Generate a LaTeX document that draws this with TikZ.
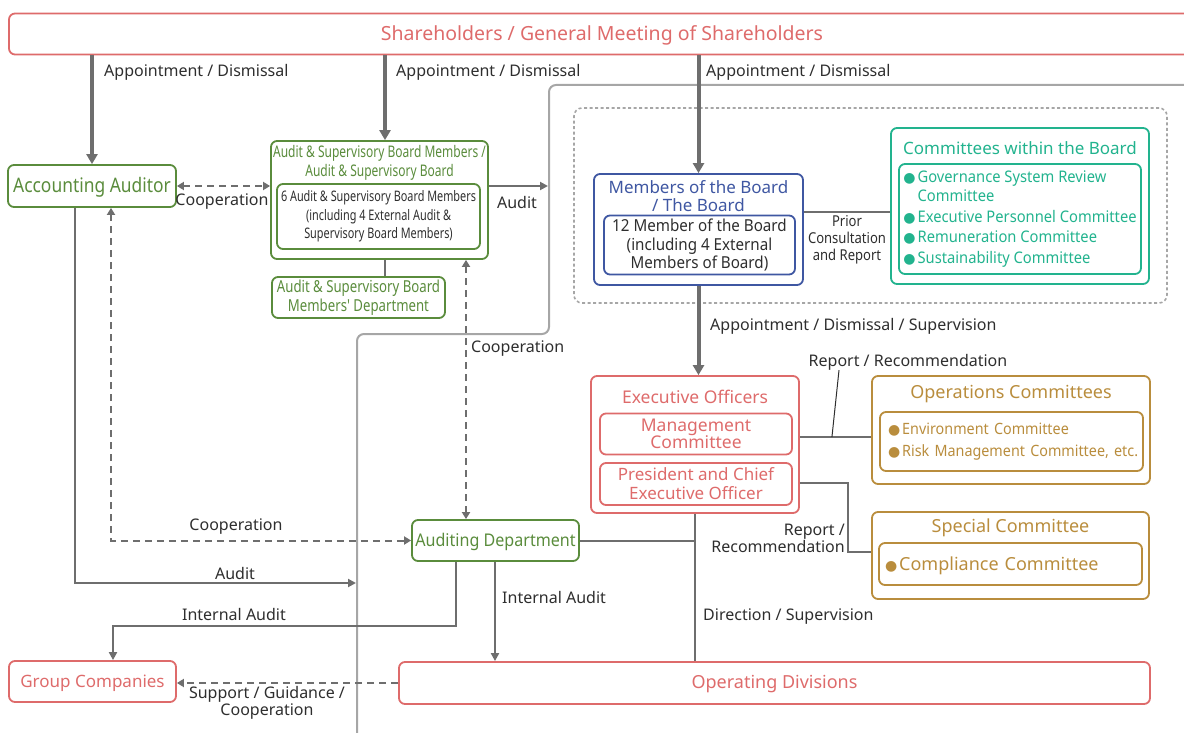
\documentclass[tikz,border=0pt]{standalone}
\usepackage{fontspec}
\setmainfont{Noto Sans}
\newfontfamily\cfA[FakeStretch=0.75]{Noto Sans}
\newfontfamily\cfB[FakeStretch=0.80]{Noto Sans}
\newfontfamily\cfC[FakeStretch=0.87]{Noto Sans}
\newfontfamily\cfD[FakeStretch=0.92]{Noto Sans}
\newfontfamily\symfont{DejaVu Sans}
\usetikzlibrary{arrows.meta,calc}

\definecolor{cRed}{HTML}{DE6B6B}
\definecolor{cGreen}{HTML}{5A8C3C}
\definecolor{cBlue}{HTML}{3F57A2}
\definecolor{cTeal}{HTML}{22B38E}
\definecolor{cGold}{HTML}{B98D3D}
\definecolor{cLine}{HTML}{6E6E6E}
\definecolor{cFrame}{HTML}{A6A6A6}
\definecolor{cText}{HTML}{2E2E2E}

\newcommand\blt{{\symfont\fontsize{14}{14}\selectfont ●}}
\newcommand\low[1]{\raisebox{-1.5pt}[\height][\depth]{#1}}

\tikzset{
  box/.style={draw, line width=1.8pt, rounded corners=6pt, inner sep=0pt, align=center},
  redbox/.style={box, draw=cRed, text=cRed},
  greenbox/.style={box, draw=cGreen, text=cGreen},
  bluebox/.style={box, draw=cBlue, text=cBlue},
  tealbox/.style={box, draw=cTeal, text=cTeal},
  goldbox/.style={box, draw=cGold, text=cGold},
  title/.style={inner sep=0pt, align=center},
  lbl/.style={text=cText, inner sep=0pt, align=center, font=\fontsize{16}{17}\selectfont},
  heavy/.style={draw=cLine, line width=4pt, -{Triangle[length=10pt,width=11pt]}},
  conn/.style={draw=cLine, line width=2pt},
  arr/.style={conn, -{Triangle[length=8pt,width=8pt]}},
  dasharr/.style={conn, dash pattern=on 7pt off 5pt, -{Triangle[length=7pt,width=8pt]}},
  dasharr2/.style={dasharr, {Triangle[length=7pt,width=8pt]}-{Triangle[length=7pt,width=8pt]}},
  leader/.style={draw=cText, line width=1pt},
  frame/.style={draw=cFrame, line width=2pt, rounded corners=7pt},
  grouped/.style={draw=cFrame, line width=1.6pt, dash pattern=on 3pt off 2.5pt, rounded corners=8pt}
}

\begin{document}
\begin{tikzpicture}[x=1pt,y=-1pt]
\useasboundingbox (0,0) rectangle (1184,733);

% separating line around the board area
\draw[frame] (1195,85) -- (549,85) -- (549,334) -- (357,334) -- (357,745);
\coordinate (frameA) at (548,186);
\coordinate (frameB) at (356,583);

% shareholders
\node[redbox, minimum width=1186pt, minimum height=41pt, font=\fontsize{19.5}{22}\selectfont] (sh) at (602,34) {\low{Shareholders / General Meeting of Shareholders}};

% accounting auditor
\node[greenbox, minimum width=168pt, minimum height=42pt, font=\cfC\fontsize{20}{22}\selectfont] (acc) at (92,186) {\low{Accounting Auditor}};

% audit & supervisory board
\node[greenbox, minimum width=217pt, minimum height=118pt] (asb) at (379.5,200) {};
\node[title, text=cGreen, font=\cfA\fontsize{16}{19}\selectfont] (asbt) at (379.5,162.5) {Audit \& Supervisory Board Members /\\Audit \& Supervisory Board};
\node[greenbox, text=cText, minimum width=203pt, minimum height=65pt, font=\cfA\fontsize{14.5}{18.5}\selectfont] (asbi) at (378.5,216.5) {6 Audit \& Supervisory Board Members\\(including 4 External Audit \&\\Supervisory Board Members)};
\node[greenbox, minimum width=173pt, minimum height=41pt, font=\cfB\fontsize{16.5}{19}\selectfont] (asbd) at (358.5,297.5) {Audit \& Supervisory Board\\Members' Department};

% board group
\node[grouped, minimum width=593pt, minimum height=195pt, inner sep=0pt] (grp) at (870.5,205.5) {};
\node[bluebox, minimum width=209pt, minimum height=111pt] (mob) at (698.5,229.5) {};
\node[title, text=cBlue, font=\fontsize{17}{18}\selectfont] (mobt) at (698.5,196) {Members of the Board\\/ The Board};
\node[bluebox, text=cText, minimum width=191pt, minimum height=59pt, font=\cfD\fontsize{16.5}{18.5}\selectfont] (mobi) at (699.5,245) {12 Member of the Board\\(including 4 External\\Members of Board)};

\node[tealbox, minimum width=258pt, minimum height=156pt] (cwb) at (1020,206) {};
\node[title, text=cTeal, font=\fontsize{17}{18}\selectfont] (cwbt) at (1020,148) {Committees within the Board};
\node[tealbox, minimum width=242pt, minimum height=110pt, align=left, font=\cfD\fontsize{16}{20.5}\selectfont] (cwbi) at (1020,219) {%
\begin{tabular}{@{}l@{\hspace{2pt}}l@{}}
\blt & Governance System Review\\[-1.5pt]
 & Committee\\
\blt & Executive Personnel Committee\\
\blt & Remuneration Committee\\
\blt & Sustainability Committee
\end{tabular}};

% executive officers
\node[redbox, minimum width=208pt, minimum height=137pt] (eo) at (695,444.5) {};
\node[title, text=cRed, font=\fontsize{17.5}{18}\selectfont] (eot) at (695,396.5) {Executive Officers};
\node[redbox, minimum width=192pt, minimum height=41pt, font=\fontsize{17.5}{17.5}\selectfont] (mc) at (696,434) {Management\\Committee};
\node[redbox, minimum width=192pt, minimum height=42pt, font=\fontsize{17}{19}\selectfont] (pceo) at (696,484) {President and Chief\\Executive Officer};

% operations committees
\node[goldbox, minimum width=263pt, minimum height=59pt, text width=247pt, align=left, font=\cfD\fontsize{15.6}{22}\selectfont] (opci) at (1011.5,441.5) {%
\mbox{\blt\hspace{2pt}Environment Committee}\\
\mbox{\blt\hspace{2pt}Risk Management Committee, etc.}};
\node[goldbox, minimum width=278pt, minimum height=108pt] (opc) at (1011,430) {};
\node[title, text=cGold, font=\fontsize{18}{18}\selectfont] (opct) at (1011,394.5) {Operations Committees};

% special committee
\node[goldbox, minimum width=277pt, minimum height=87pt] (spc) at (1010.5,555.5) {};
\node[title, text=cGold, font=\fontsize{18}{18}\selectfont] (spct) at (1010.5,528) {Special Committee};
\node[goldbox, minimum width=263pt, minimum height=42pt, text width=251pt, align=left, font=\fontsize{18}{18}\selectfont] (spci) at (1010.5,564) {\low{\blt\hspace{2pt}Compliance Committee}};

% auditing department, group companies, operating divisions
\node[greenbox, minimum width=167pt, minimum height=41pt, font=\cfD\fontsize{17.5}{18}\selectfont] (ad) at (495.5,540.5) {\low{Auditing Department}};
\node[redbox, minimum width=167pt, minimum height=41pt, font=\fontsize{17}{18}\selectfont] (gc) at (92.5,681.5) {\low{Group Companies}};
\node[redbox, minimum width=751pt, minimum height=42pt, font=\fontsize{18}{18}\selectfont] (od) at (774.5,683) {\low{Operating Divisions}};

% appointment / dismissal by shareholders
\draw[heavy] (sh.south -| acc.north) -- (acc.north);
\draw[heavy] ([xshift=5.5pt]asb.north |- sh.south) -- ([xshift=5.5pt]asb.north);
\draw[heavy] (sh.south -| mob.north) -- (mob.north);
\node[lbl, anchor=west] (l1) at (104,72) {Appointment / Dismissal};
\node[lbl, anchor=west] (l2) at (396,72) {Appointment / Dismissal};
\node[lbl, anchor=west] (l3) at (706,72) {Appointment / Dismissal};

% accounting auditor <-> audit & supervisory board
\draw[dasharr2] (acc.east) -- (acc.east -| asb.west);
\node[lbl] (l4) at (222,202) {Cooperation};

% audit of the board
\draw[arr] (acc.east -| asb.east) -- (frameA);
\node[lbl] (l5) at (517,202) {Audit};

% board to its department
\draw[conn] ([xshift=5.5pt]asb.south) -- ([xshift=5.5pt]asb.south |- asbd.north);

% cooperation with auditing department
\draw[dasharr2] ([xshift=86.5pt]asb.south) -- ([xshift=86.5pt]asb.south |- ad.north);
\node[lbl, anchor=west] (l6) at (471,349) {Cooperation};
\draw[dasharr2] ([xshift=19pt]acc.south) |- (ad.west);
\node[lbl] (l7) at (236,527) {Cooperation};

% accounting audit
\draw[arr] ([xshift=-17pt]acc.south) |- (frameB);
\node[lbl] (l8) at (235,573) {Audit};

% internal audits
\draw[arr] ([xshift=-39.5pt]ad.south) -- ++(0,64) -| ([xshift=20.5pt]gc.north);
\node[lbl] (l9) at (234,614) {Internal Audit};
\draw[arr] ([xshift=-0.5pt]ad.south) -- ([xshift=-0.5pt]ad.south |- od.north);
\node[lbl, anchor=west] (l10) at (502,597) {Internal Audit};

% direction / supervision
\draw[conn] (ad.east) -- (ad.east -| eo.south);
\draw[conn] (eo.south) -- (eo.south |- od.north);
\node[lbl, anchor=west] (l11) at (703,617) {Direction / Supervision};

% board to executive officers
\draw[heavy] (mob.south) -- (mob.south |- eo.north);
\node[lbl, anchor=west] (l12) at (710,326) {Appointment / Dismissal / Supervision};

% board and its committees
\draw[conn] ([yshift=17.5pt]mob.east) -- ([yshift=17.5pt]mob.east -| cwb.west);
\node[lbl, font=\cfC\fontsize{15}{17}\selectfont] (l13) at (847,240) {Prior\\Consultation\\and Report};

% executive officers and committees
\draw[conn] ([yshift=7.5pt]eo.east) -- coordinate[pos=0.45] (tap) ([yshift=7.5pt]eo.east -| opc.west);
\node[lbl] (l14) at (908,362) {Report / Recommendation};
\draw[leader] (tap) -- ([xshift=-69pt]l14.south);
\draw[conn] ([yshift=-38.5pt]eo.east) -- ++(48,0) |- ([yshift=3.5pt]spc.west);
\node[lbl, align=right, anchor=east] (l15) at (845,538) {Report /\\Recommendation};

% operating divisions to group companies
\draw[dasharr] (od.west) -- (od.west -| gc.east);
\node[lbl] (l16) at (267,703) {Support / Guidance /\\Cooperation};

\end{tikzpicture}
\end{document}
